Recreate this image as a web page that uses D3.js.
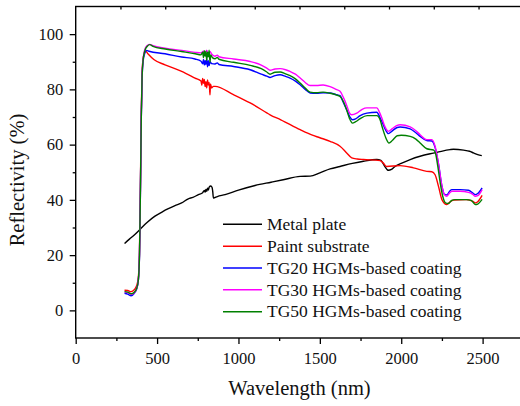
<!DOCTYPE html>
<html>
<head>
<meta charset="utf-8">
<script src="https://cdn.jsdelivr.net/npm/d3@7"></script>
<style>
  body { margin: 0; background: #fff; }
  svg { display: block; font-family: "Liberation Serif", "Times New Roman", serif; }
</style>
</head>
<body>
<svg></svg>
<script>
// [wavelength nm, reflectivity %]
const metalPlate = [[300,24.2],[330,25.8],[360,27.3],[395,29.3],[440,31.9],[487,34.1],[530,35.6],[569,36.8],[610,37.9],[651,38.9],[692,40.4],[720,40.9],[754,41.9],[780,42.6],[790,43.4],[795,42.8],[800,43.8],[805,43.1],[810,44.2],[815,43.6],[820,44.6],[830,45],[838,44.5],[842,43],[846,40.7],[870,41.2],[918,41.9],[1000,43.5],[1102,45.2],[1200,46.4],[1275,47.3],[1379,48.5],[1440,48.6],[1500,49.8],[1563,51.2],[1624,52.1],[1700,53.2],[1768,54],[1850,54.6],[1875,54.3],[1895,52.5],[1921,50.7],[1940,51],[1962,52.1],[2000,53.2],[2055,54.6],[2116,55.8],[2178,56.7],[2219,57.2],[2300,58.2],[2321,58.3],[2383,58],[2420,57.6],[2444,57],[2470,56.4],[2495,56]];

const paintSubstrate = [[300,7.3],[320,7.2],[340,6.8],[360,7.5],[375,9],[385,12],[392,22],[398,47],[403,72],[408,86],[415,91.5],[430,93.8],[445,92.8],[480,90.8],[549,88.9],[651,86.5],[733,84.1],[770,83],[775,81.5],[780,84],[785,82.2],[790,83.6],[795,81],[800,82.8],[805,80.5],[810,83.4],[815,81.6],[820,82.5],[825,78],[828,82],[835,80.5],[846,81.1],[856,81.1],[969,78.1],[1072,75.1],[1174,71.5],[1194,70.8],[1260,69],[1379,65.4],[1450,63.5],[1500,62.5],[1563,61.2],[1624,59.4],[1665,57],[1696,55.2],[1730,54.8],[1768,54.6],[1870,54.2],[1890,53.3],[1910,52.1],[1993,52.4],[2075,51.6],[2157,50.3],[2188,50.2],[2208,49.1],[2229,44.9],[2250,40.1],[2280,38.3],[2300,39.3],[2321,39.9],[2400,40.1],[2440,39.5],[2455,38.9],[2470,39.3],[2497,41.6]];

const tg20 = [[300,6.2],[320,5.9],[340,5.3],[360,6.2],[375,7.8],[385,11],[392,20],[398,45],[403,70],[408,84],[415,90.5],[425,93.2],[436,94.1],[450,93.8],[549,92.9],[651,91.7],[733,91],[770,90.2],[780,89.3],[785,90.8],[790,88.8],[795,90.5],[800,89],[805,91],[810,88.2],[815,90.4],[820,88.6],[825,90],[835,89.3],[856,89.2],[870,89.6],[880,89],[970,88.3],[1072,87.1],[1140,85.5],[1174,84.8],[1194,84.3],[1225,85],[1256,85.3],[1290,84.7],[1317,84.1],[1350,83],[1379,81.7],[1410,80],[1440,78.7],[1480,78.6],[1520,78.8],[1563,78.7],[1600,78.1],[1624,77.7],[1645,75.2],[1665,72.6],[1685,70],[1700,69],[1720,69.3],[1745,70.4],[1789,71.4],[1850,71.7],[1868,70],[1881,68.4],[1900,65.8],[1921,64],[1945,65],[1975,66.2],[1993,66.4],[2055,65.7],[2090,64.3],[2116,63],[2157,61.5],[2188,61.3],[2208,59],[2229,53],[2250,45],[2265,42],[2280,41.8],[2300,43.3],[2311,43.7],[2362,43.7],[2413,43.5],[2440,42.5],[2455,41.9],[2470,42.3],[2497,44.3]];

const tg30 = [[300,6.6],[320,6.4],[340,5.8],[360,6.4],[375,8],[385,11],[392,20],[398,45],[403,70],[408,85],[415,91.5],[425,94.5],[440,95.9],[455,96.3],[475,95.8],[550,94.9],[651,94.1],[733,93.4],[770,93.2],[785,93.8],[795,92.4],[805,94.2],[815,92.6],[825,93.7],[835,92.8],[856,92],[870,92.4],[880,91.8],[970,91],[1072,90.1],[1140,88.8],[1174,87.7],[1194,86.9],[1225,87.4],[1256,87.5],[1290,87.1],[1317,86.5],[1350,85.5],[1379,84.1],[1410,82.5],[1440,81.4],[1480,81.4],[1520,81.6],[1563,81],[1600,80],[1624,79.3],[1645,77],[1665,74.2],[1682,71.5],[1696,70.8],[1727,71.4],[1760,72.8],[1789,73.3],[1850,73.3],[1868,71.5],[1881,69.6],[1900,66.5],[1921,64.8],[1945,65.8],[1975,67],[1993,67.2],[2055,66.4],[2090,65],[2116,63.6],[2157,61.8],[2188,61.8],[2208,59.4],[2229,53],[2250,45],[2265,42],[2280,41.3],[2300,42.7],[2311,43.1],[2362,43.1],[2413,42.7],[2440,42],[2455,41.3],[2470,41.5],[2497,43.7]];

const tg50 = [[300,6.8],[320,6.6],[340,6.0],[360,6.6],[375,8],[385,11],[392,20],[398,45],[403,70],[408,85],[415,91],[425,94],[440,95.6],[455,96.2],[475,95.6],[550,94.6],[650,93.7],[735,92.9],[770,92.5],[780,93.5],[785,91.5],[790,94],[795,92],[800,93.8],[805,90.5],[810,93.5],[815,91.8],[820,94.2],[825,89.8],[830,92.5],[840,91.5],[856,91.1],[870,91.6],[880,90.9],[970,89.8],[1072,88.7],[1140,87.5],[1174,86.3],[1194,85.5],[1225,86.2],[1256,86.3],[1290,85.6],[1317,85],[1350,83.8],[1379,82.3],[1410,80.5],[1440,79],[1480,78.8],[1520,79],[1563,78.6],[1600,78],[1624,77.4],[1645,75.5],[1665,72.5],[1682,69.5],[1700,67.8],[1720,68.3],[1745,69.3],[1790,70.5],[1850,70.5],[1870,69],[1885,66],[1905,62.5],[1925,60.6],[1945,61.5],[1975,63.2],[2000,63.4],[2055,63],[2090,62],[2116,60.6],[2157,58.5],[2200,58],[2212,56.5],[2225,52],[2240,46],[2255,41.3],[2275,38.8],[2290,38.7],[2310,39.8],[2330,40.1],[2400,40.1],[2430,39.8],[2455,38.3],[2470,38.5],[2497,40.2]];

const seriesNames = ["Metal plate", "Paint substrate", "TG20 HGMs-based coating", "TG30 HGMs-based coating", "TG50 HGMs-based coating"];
const seriesData = [metalPlate, paintSubstrate, tg20, tg30, tg50];
const seriesColors = ["#000000", "#ff0000", "#0000ff", "#ff00ff", "#008000"];

const xMajorTicks = [0, 500, 1000, 1500, 2000, 2500];
const xMinorTicks = [250, 750, 1250, 1750, 2250];
const xTopTicks = [275, 550, 825, 1100, 1375, 1650, 1925, 2200, 2475];
const yMajorTicks = [0, 20, 40, 60, 80, 100];
const yMinorTicks = [10, 30, 50, 70, 90];

let width = 520;
let height = 406;
let plotLeft = 75.7, plotRight = 523.3, plotTop = 6.5, plotBottom = 338;

let svg = d3.select('svg')
            .attr('width', width)
            .attr('height', height);

let xScale = d3.scaleLinear().domain([0, 2750]).range([plotLeft, plotRight]);
let yScale = d3.scaleLinear().domain([-10, 110]).range([plotBottom, plotTop]);

// curves
let line = d3.line()
             .x((d) => xScale(d[0]))
             .y((d) => yScale(d[1]))
             .curve(d3.curveMonotoneX);

svg.append('g')
   .selectAll('path')
   .data(seriesData)
   .enter()
   .append('path')
   .attr('d', line)
   .attr('fill', 'none')
   .attr('stroke', (d, i) => seriesColors[i])
   .attr('stroke-width', 1.4)
   .attr('stroke-linejoin', 'round');

// axes
const styleAxis = (g) => {
    g.select('.domain').remove();
    g.selectAll('line').attr('stroke', '#000').attr('stroke-width', 1.3);
    g.selectAll('text').attr('fill', '#111').style('font-size', '16.5px').style('font-family', '"Liberation Serif", serif');
};

svg.append('g')
   .attr('transform', 'translate(0,' + plotBottom + ')')
   .call(d3.axisBottom(xScale).tickValues(xMajorTicks).tickSize(6).tickPadding(8.5).tickFormat(d3.format('d')))
   .call(styleAxis);

svg.append('g')
   .attr('transform', 'translate(0,' + plotBottom + ')')
   .call(d3.axisBottom(xScale).tickValues(xMinorTicks).tickSize(3).tickFormat(''))
   .call(styleAxis);

svg.append('g')
   .attr('transform', 'translate(0,' + plotTop + ')')
   .call(d3.axisTop(xScale).tickValues(xTopTicks).tickSize(-3).tickFormat(''))
   .call(styleAxis);

svg.append('g')
   .attr('transform', 'translate(' + plotLeft + ',0)')
   .call(d3.axisLeft(yScale).tickValues(yMajorTicks).tickSize(6).tickPadding(6.5))
   .call(styleAxis);

svg.append('g')
   .attr('transform', 'translate(' + plotLeft + ',0)')
   .call(d3.axisLeft(yScale).tickValues(yMinorTicks).tickSize(3).tickFormat(''))
   .call(styleAxis);

// frame
svg.append('rect')
   .attr('x', plotLeft)
   .attr('y', plotTop)
   .attr('width', plotRight - plotLeft)
   .attr('height', plotBottom - plotTop)
   .attr('fill', 'none')
   .attr('stroke', '#000')
   .attr('stroke-width', 1.4);

// axis titles
svg.append('text')
   .attr('x', 299.5)
   .attr('y', 395)
   .attr('text-anchor', 'middle')
   .style('font-size', '20.5px')
   .attr('fill', '#111')
   .text('Wavelength (nm)');

svg.append('text')
   .attr('transform', 'translate(24,180) rotate(-90)')
   .attr('text-anchor', 'middle')
   .style('font-size', '20.5px')
   .attr('fill', '#111')
   .text('Reflectivity (%)');

// legend
let legend = svg.append('g')
                .selectAll('g')
                .data(seriesNames)
                .enter()
                .append('g')
                .attr('transform', (d, i) => 'translate(223,' + (224.3 + i * 21.85) + ')');

legend.append('line')
      .attr('x1', 0)
      .attr('x2', 39)
      .attr('stroke', (d, i) => seriesColors[i])
      .attr('stroke-width', 1.5);

legend.append('text')
      .attr('x', 44)
      .attr('dy', '0.33em')
      .style('font-size', '17.5px')
      .attr('fill', '#111')
      .text((d) => d);
</script>
</body>
</html>
